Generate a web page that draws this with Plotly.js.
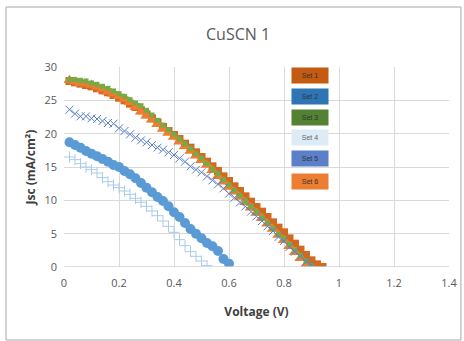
<!DOCTYPE html>
<html><head><meta charset="utf-8">
<script src="https://cdn.plot.ly/plotly-3.0.1.min.js"></script>
<style>html,body{margin:0;padding:0;background:#fff}#c{width:464px;height:341px}</style>
</head><body><div id="c"></div>
<script>
// Voltage steps (V)
const v1 = [0.02,0.04,0.06,0.08,0.10,0.12,0.14,0.16,0.18,0.20,0.22,0.24,0.26,0.28,0.30,0.32,0.34,0.36,0.38,0.40,0.42,0.44,0.46,0.48,0.50,0.52,0.54,0.56,0.58,0.60,0.62,0.64,0.66,0.68,0.70,0.72,0.74,0.76,0.78,0.80,0.82,0.84,0.86,0.88,0.90,0.92,0.94];
const set1 = [27.9,27.7,27.5,27.3,27.1,26.8,26.5,26.2,25.8,25.4,25.0,24.5,24.0,23.5,22.9,22.3,21.7,21.0,20.4,19.8,19.2,18.5,17.9,17.2,16.5,15.8,15.1,14.4,13.6,12.9,12.1,11.4,10.6,9.8,9.0,8.3,7.5,6.7,5.9,5.2,4.3,3.5,2.6,1.8,1.0,0.4,0.0];

const v2 = [0.02,0.04,0.06,0.08,0.10,0.12,0.14,0.16,0.18,0.20,0.22,0.24,0.26,0.28,0.30,0.32,0.34,0.36,0.38,0.40,0.42,0.44,0.46,0.48,0.50,0.52,0.54,0.56,0.58,0.60];
const set2 = [18.7,18.3,17.9,17.4,17.0,16.6,16.2,15.8,15.3,15.0,14.4,13.9,13.3,12.6,11.9,11.2,10.5,9.9,9.1,8.2,7.5,6.6,5.7,5.0,4.3,3.6,3.1,2.4,1.2,0.5];

const v3 = [0.02,0.04,0.06,0.08,0.10,0.12,0.14,0.16,0.18,0.20,0.22,0.24,0.26,0.28,0.30,0.32,0.34,0.36,0.38,0.40,0.42,0.44,0.46,0.48,0.50,0.52,0.54,0.56,0.58,0.60,0.62,0.64,0.66,0.68,0.70,0.72,0.74,0.76,0.78,0.80,0.82,0.84,0.86,0.88,0.90];
const set3 = [28.1,28.1,28.0,27.9,27.6,27.4,27.1,26.8,26.4,26.0,25.6,25.1,24.6,24.2,23.5,22.8,22.0,21.3,20.6,19.9,19.2,18.5,17.8,17.0,16.3,15.5,14.7,14.0,13.1,12.3,11.5,10.7,9.9,9.1,8.3,7.4,6.6,5.8,4.9,4.2,3.4,2.5,1.7,0.9,0.2];

const v4 = [0.02,0.04,0.06,0.08,0.10,0.12,0.14,0.16,0.18,0.20,0.22,0.24,0.26,0.28,0.30,0.32,0.34,0.36,0.38,0.40,0.42,0.44,0.46,0.48,0.50,0.52];
const set4 = [16.5,16.1,15.5,15.0,14.6,14.1,13.4,12.8,12.3,11.9,11.4,10.9,10.3,9.7,9.1,8.4,7.7,6.9,6.1,5.2,4.1,3.2,2.3,1.6,0.9,0.2];

const v5 = [0.02,0.04,0.06,0.08,0.10,0.12,0.14,0.16,0.18,0.20,0.22,0.24,0.26,0.28,0.30,0.32,0.34,0.36,0.38,0.40,0.42,0.44,0.46,0.48,0.50,0.52,0.54,0.56,0.58,0.60,0.62,0.64,0.66,0.68,0.70,0.72,0.74,0.76,0.78,0.80,0.82,0.84,0.86,0.88,0.90];
const set5 = [23.6,23.0,22.6,22.6,22.3,22.2,21.9,21.6,21.5,20.8,20.4,19.9,19.4,19.0,18.7,18.3,17.9,17.6,17.2,16.8,16.3,15.8,15.1,14.6,14.2,13.6,13.0,12.4,11.8,11.0,10.4,9.7,9.1,8.3,7.6,6.9,6.1,5.4,4.5,3.9,3.0,2.3,1.6,0.8,0.3];

const v6 = [0.02,0.04,0.06,0.08,0.10,0.12,0.14,0.16,0.18,0.20,0.22,0.24,0.26,0.28,0.30,0.32,0.34,0.36,0.38,0.40,0.42,0.44,0.46,0.48,0.50,0.52,0.54,0.56,0.58,0.60,0.62,0.64,0.66,0.68,0.70,0.72,0.74,0.76,0.78,0.80,0.82,0.84,0.86,0.88];
const set6 = [28.0,27.8,27.6,27.5,27.3,27.0,26.7,26.3,26.0,25.6,25.2,24.7,24.0,23.3,22.7,22.1,21.4,20.7,20.1,19.5,18.8,18.1,17.4,16.7,16.0,15.3,14.5,13.6,12.8,12.0,11.3,10.5,9.7,8.9,8.1,7.3,6.5,5.7,4.8,4.0,3.1,2.2,1.3,0.3];

const seriesNames = ["Set 1","Set 2","Set 3","Set 4","Set 5","Set 6"];
const seriesColors = ["#C55A11","#2E75B6","#548235","#DDEBF7","#5B7FC8","#ED7D31"];
const xTicks = [0,0.2,0.4,0.6,0.8,1,1.2,1.4];
const yTicks = [0,5,10,15,20,25,30];

const traces = [
  {x:v1,y:set1,name:"Set 1",mode:"markers",type:"scatter",marker:{symbol:"square",size:8,color:"#D2691E"}},
  {x:v6,y:set6,name:"Set 6",mode:"markers",type:"scatter",marker:{symbol:"triangle-up",size:11,color:"#ED7D31"}},
  {x:v3,y:set3,name:"Set 3",mode:"markers",type:"scatter",marker:{symbol:"square",size:5,color:"#70AD47"}},
  {x:v5,y:set5,name:"Set 5",mode:"markers",type:"scatter",marker:{symbol:"x-thin",size:8,line:{color:"#5B7FC8",width:1}}},
  {x:v4,y:set4,name:"Set 4",mode:"markers",type:"scatter",marker:{symbol:"cross-thin",size:8,line:{color:"#A9CBEA",width:1}}},
  {x:v2,y:set2,name:"Set 2",mode:"markers",type:"scatter",marker:{symbol:"circle",size:10,color:"#5B9BD5"}}
];

const legY = [0.9575,0.855,0.75,0.6475,0.5425,0.43];
const annotations = seriesNames.map((n,i)=>({
  xref:"paper",yref:"paper",x:0.639,y:legY[i],xanchor:"center",yanchor:"middle",
  text:n,showarrow:false,bgcolor:seriesColors[i],width:34,height:13,
  borderpad:1,font:{family:"Liberation Sans",size:7,color:i===3?"#666":"#333"}
}));

const layout = {
  width:464,height:341,
  margin:{l:64,r:15,t:67,b:74},
  paper_bgcolor:"#fff",plot_bgcolor:"#fff",
  showlegend:false,
  title:{text:"CuSCN 1",font:{family:"Open Sans",size:16,color:"#595959"},x:0.513,xanchor:"center",y:0.9,yanchor:"middle"},
  xaxis:{range:[0,1.4],tickvals:xTicks,ticktext:xTicks.map(String),showgrid:true,gridcolor:"#d9d9d9",gridwidth:1,
    zeroline:false,showline:false,ticks:"",ticklabelstandoff:8,tickfont:{family:"Open Sans",size:11,color:"#595959"},
    title:{text:"Voltage (V)",font:{family:"Open Sans",size:12,color:"#404040",weight:"bold"},standoff:18}},
  yaxis:{range:[0,30],tickvals:yTicks,ticktext:yTicks.map(String),showgrid:true,gridcolor:"#d9d9d9",gridwidth:1,
    zeroline:false,showline:false,ticks:"",ticklabelstandoff:6,tickfont:{family:"Open Sans",size:11,color:"#595959"},
    title:{text:"<b>Jsc (mA/cm²)</b>",font:{family:"Open Sans",size:12,color:"#404040"},standoff:6}},
  shapes:[
    {type:"line",xref:"paper",yref:"y",x0:0,x1:1,y0:0,y1:0,line:{color:"#d0d0d0",width:1.5}},
    {type:"rect",xref:"paper",yref:"paper",x0:-0.1506,x1:1.031,y0:-0.365,y1:1.3,line:{color:"#a6a6a6",width:1}}
  ],
  annotations:annotations
};
Plotly.newPlot("c",traces,layout,{staticPlot:true,displayModeBar:false});
</script>
</body></html>
